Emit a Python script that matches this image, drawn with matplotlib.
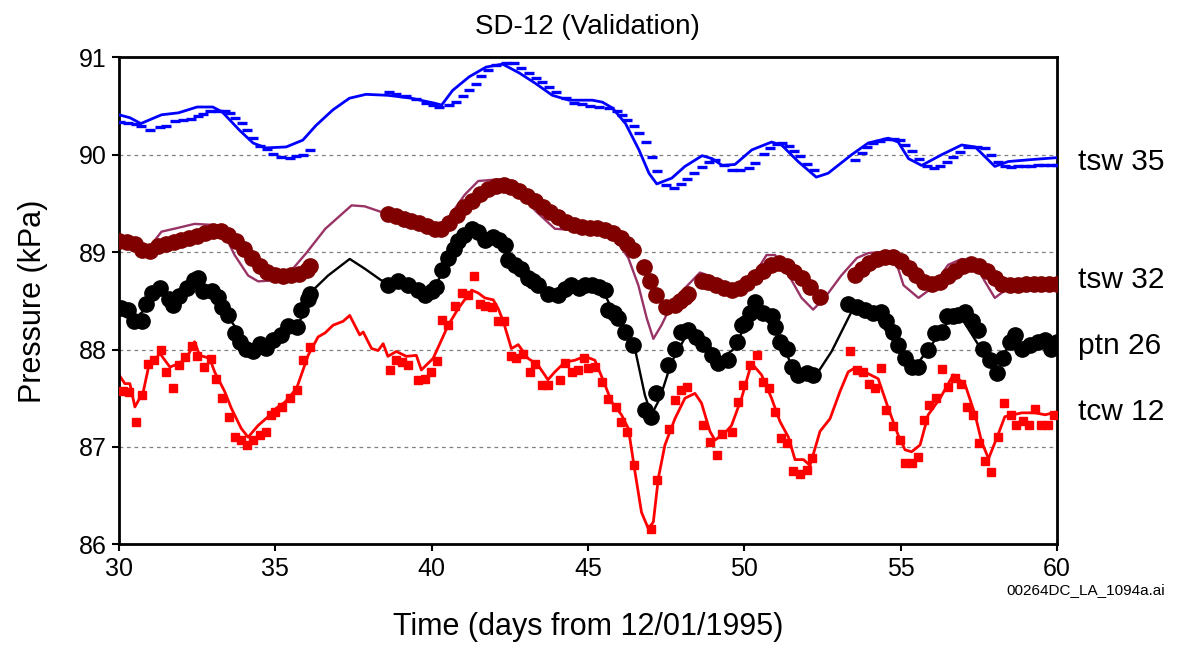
import matplotlib
matplotlib.use('Agg')
import matplotlib.pyplot as plt
import matplotlib.transforms as mtransforms

plt.rcParams['font.family'] = ['Liberation Sans', 'DejaVu Sans']

# tsw 35 - simulated (line) and observed (dashes)
tsw35_sim_t = [30.0, 30.35, 30.7, 31.36, 31.9, 32.5, 33.0, 33.3, 33.86, 34.29, 34.7, 35.35, 35.88,
               36.3, 36.84, 37.37, 37.9, 38.6, 39.35, 40.08, 40.32, 40.67, 41.2, 41.74, 42.27, 42.8,
               43.33, 43.86, 44.39, 45.14, 45.46, 45.78, 46.2, 46.63, 46.95, 47.2, 47.68, 48.1, 48.65,
               48.97, 49.29, 49.7, 50.24, 50.87, 51.19, 51.72, 52.3, 52.68, 53.43, 53.96, 54.6, 54.92,
               55.25, 55.67, 56.31, 56.95, 57.38, 58.01, 58.44, 59.18, 60.0]
tsw35_sim_v = [90.41, 90.38, 90.32, 90.41, 90.43, 90.49, 90.49, 90.44, 90.25, 90.12, 90.07, 90.08, 90.15,
               90.30, 90.46, 90.58, 90.62, 90.61, 90.58, 90.53, 90.51, 90.66, 90.80, 90.90, 90.93, 90.84,
               90.73, 90.61, 90.56, 90.56, 90.54, 90.48, 90.32, 90.05, 89.81, 89.70, 89.76, 89.88, 89.99,
               89.96, 89.89, 89.90, 90.05, 90.13, 90.10, 89.93, 89.77, 89.81, 90.00, 90.12, 90.17, 90.13,
               89.96, 89.89, 90.00, 90.10, 90.08, 89.88, 89.93, 89.95, 89.97]
tsw35_obs_t = [30.03, 30.3, 30.56, 30.72, 30.99, 31.31, 31.52, 31.79, 32.05, 32.32, 32.53, 32.69, 32.9,
               33.17, 33.38, 33.54, 33.70, 33.92, 34.08, 34.29, 34.5, 34.72, 34.93, 35.19, 35.46, 35.67,
               35.88, 36.12,
               38.65, 38.86, 39.18, 39.5, 39.82, 40.03, 40.24, 40.56, 40.78, 40.99, 41.2, 41.42, 41.58,
               41.79, 42.06, 42.38, 42.64, 42.85, 43.12, 43.33, 43.54, 43.76, 43.97, 44.29, 44.55, 44.82,
               45.08, 45.35, 45.67, 45.93, 46.09, 46.25, 46.46, 46.62, 46.84, 47.05, 47.21, 47.48, 47.74,
               47.96, 48.17, 48.38, 48.65, 48.86, 49.07, 49.34, 49.61, 49.87, 50.14, 50.35, 50.62, 50.83,
               51.04, 51.2, 51.42, 51.58, 51.79, 52.0, 52.22,
               53.54, 53.76, 53.92, 54.13, 54.34, 54.55, 54.77, 54.98, 55.14, 55.35, 55.57, 55.83, 56.05,
               56.26, 56.47, 56.68, 56.9, 57.16, 57.43, 57.69, 57.9, 58.12, 58.33, 58.54, 58.75, 58.96,
               59.17, 59.38, 59.59, 59.8, 60.0]
tsw35_obs_v = [90.34, 90.33, 90.32, 90.29, 90.25, 90.28, 90.30, 90.35, 90.36, 90.37, 90.40, 90.42, 90.45,
               90.45, 90.45, 90.43, 90.38, 90.33, 90.25, 90.17, 90.09, 90.06, 90.01, 89.98, 89.97, 89.99,
               90.00, 90.05,
               90.64, 90.62, 90.60, 90.57, 90.53, 90.51, 90.49, 90.51, 90.54, 90.60, 90.66, 90.73, 90.81,
               90.87, 90.92, 90.94, 90.94, 90.89, 90.84, 90.79, 90.75, 90.70, 90.64, 90.58, 90.53, 90.52,
               90.50, 90.49, 90.48, 90.45, 90.41, 90.36, 90.29, 90.22, 90.13, 89.98, 89.83, 89.69, 89.66,
               89.70, 89.75, 89.81, 89.87, 89.93, 89.95, 89.89, 89.84, 89.84, 89.86, 89.92, 90.01, 90.07,
               90.11, 90.12, 90.09, 90.04, 89.99, 89.90, 89.84,
               89.95, 90.02, 90.08, 90.12, 90.14, 90.16, 90.16, 90.15, 90.10, 90.04, 89.96, 89.88, 89.86,
               89.88, 89.93, 89.98, 90.03, 90.08, 90.08, 90.07, 90.00, 89.93, 89.88, 89.87, 89.88, 89.88,
               89.88, 89.89, 89.89, 89.89, 89.89]

# tsw 32
tsw32_sim_t = [30.0, 30.5, 30.9, 31.36, 31.9, 32.42, 32.96, 33.38, 33.7, 34.13, 34.45, 35.0, 35.35, 35.99,
               36.6, 37.44, 37.86, 38.5, 39.0, 39.5, 40.0, 40.2, 40.53, 41.06, 41.49, 42.24, 42.77, 43.3,
               43.94, 44.36, 45.0, 45.33, 45.97, 46.29, 46.61, 46.88, 47.09, 47.35, 47.67, 48.1, 48.58,
               48.95, 49.5, 49.92, 50.34, 50.71, 50.98, 51.3, 51.83, 52.2, 52.57, 53.1, 53.6, 53.96, 54.38,
               54.81, 55.09, 55.57, 55.99, 56.52, 56.95, 57.38, 57.69, 58.01, 58.22, 58.6, 59.0, 60.0]
tsw32_sim_v = [89.13, 89.08, 89.02, 89.21, 89.25, 89.29, 89.28, 89.18, 88.97, 88.76, 88.70, 88.71, 88.75,
               88.99, 89.24, 89.48, 89.47, 89.40, 89.36, 89.31, 89.24, 89.23, 89.35, 89.59, 89.73, 89.75,
               89.65, 89.43, 89.24, 89.23, 89.24, 89.25, 89.09, 88.94, 88.66, 88.32, 88.11, 88.25, 88.46,
               88.63, 88.79, 88.75, 88.62, 88.66, 88.78, 88.97, 88.97, 88.83, 88.53, 88.41, 88.53, 88.76,
               88.94, 88.99, 89.00, 88.94, 88.66, 88.53, 88.63, 88.87, 88.93, 88.88, 88.70, 88.53, 88.58,
               88.66, 88.67, 88.67]
tsw32_obs_t = [30.0, 30.25, 30.5, 30.75, 31.0, 31.25, 31.5, 31.75, 32.0, 32.25, 32.5, 32.75, 33.0, 33.25,
               33.5, 33.75, 34.0, 34.25, 34.5, 34.75, 35.0, 35.25, 35.5, 35.75, 36.0, 36.1,
               38.6, 38.85, 39.1, 39.35, 39.6, 39.85, 40.1, 40.3, 40.55, 40.8, 41.05, 41.3, 41.55, 41.8,
               42.05, 42.3, 42.55, 42.8, 43.05, 43.3, 43.55, 43.8, 44.05, 44.3, 44.55, 44.8, 45.05, 45.3,
               45.55, 45.8, 46.05, 46.25, 46.45, 46.8, 46.98, 47.19, 47.51, 47.78, 47.95, 48.1, 48.2,
               48.63, 48.85, 49.1, 49.35, 49.6, 49.85, 50.1, 50.35, 50.6, 50.85, 51.1, 51.35, 51.6, 51.85,
               52.1, 52.42,
               53.53, 53.75, 54.0, 54.25, 54.5, 54.75, 55.0, 55.25, 55.5, 55.75, 56.0, 56.25, 56.5, 56.75,
               57.0, 57.25, 57.5, 57.75, 58.0, 58.25, 58.5, 58.75, 59.0, 59.25, 59.5, 59.75, 60.0]
tsw32_obs_v = [89.11, 89.10, 89.08, 89.02, 89.01, 89.06, 89.08, 89.10, 89.12, 89.14, 89.17, 89.20, 89.22,
               89.22, 89.18, 89.11, 89.03, 88.94, 88.86, 88.80, 88.77, 88.75, 88.76, 88.78, 88.82, 88.86,
               89.39, 89.37, 89.34, 89.32, 89.30, 89.27, 89.24, 89.24, 89.30, 89.38, 89.46, 89.53, 89.60,
               89.65, 89.68, 89.69, 89.67, 89.63, 89.58, 89.52, 89.46, 89.41, 89.36, 89.31, 89.28, 89.26,
               89.25, 89.25, 89.23, 89.20, 89.14, 89.08, 89.02, 88.85, 88.70, 88.56, 88.44, 88.46, 88.50,
               88.54, 88.57,
               88.70, 88.69, 88.66, 88.63, 88.61, 88.63, 88.68, 88.74, 88.81, 88.87, 88.89, 88.86, 88.80,
               88.73, 88.64, 88.54,
               88.76, 88.83, 88.89, 88.93, 88.95, 88.95, 88.91, 88.84, 88.76, 88.69, 88.67, 88.69, 88.75,
               88.81, 88.86, 88.88, 88.86, 88.81, 88.73, 88.67, 88.66, 88.66, 88.67, 88.67, 88.67, 88.67,
               88.67]

# ptn 26
ptn26_sim_t = [30.0, 30.51, 30.8, 31.04, 31.36, 31.73, 32.42, 32.7, 33.2, 33.59, 34.13, 34.55, 35.04,
               35.31, 35.74, 35.95, 36.27, 36.69, 37.38, 37.86, 38.39, 39.0, 39.6, 40.1, 40.74, 41.28,
               41.6, 42.0, 42.4, 42.87, 43.62, 44.15, 45.06, 45.44, 45.76, 46.5, 46.82, 47.03, 47.3,
               47.67, 48.1, 48.36, 48.84, 49.27, 49.69, 50.07, 50.4, 50.98, 51.51, 52.3, 52.79, 53.43,
               54.17, 54.7, 55.06, 55.46, 55.99, 56.52, 56.95, 57.48, 57.9, 58.33, 58.6, 59.0, 59.5, 60.0]
ptn26_sim_v = [88.45, 88.32, 88.40, 88.56, 88.63, 88.53, 88.70, 88.66, 88.55, 88.29, 88.05, 88.05, 88.13,
               88.18, 88.27, 88.39, 88.63, 88.76, 88.93, 88.83, 88.71, 88.68, 88.60, 88.66, 88.97, 89.24,
               89.15, 89.13, 89.02, 88.80, 88.59, 88.62, 88.65, 88.63, 88.42, 88.01, 87.53, 87.33, 87.50,
               87.87, 88.12, 88.17, 88.05, 87.91, 88.01, 88.29, 88.40, 88.22, 87.84, 87.74, 87.98, 88.39,
               88.35, 88.12, 87.95, 87.82, 88.05, 88.29, 88.32, 88.05, 87.84, 87.98, 88.08, 88.05, 88.07,
               88.07]
ptn26_obs_t = [30.05, 30.3, 30.48, 30.75, 30.88, 31.06, 31.31, 31.6, 31.73, 31.93, 32.18, 32.4, 32.53,
               32.69, 32.96, 33.17, 33.3, 33.49, 33.7, 33.86, 34.07, 34.29, 34.5, 34.71, 34.93, 35.19,
               35.4, 35.68, 35.83, 36.04, 36.12,
               38.6, 38.93, 39.25, 39.57, 39.78, 40.0, 40.15, 40.32, 40.53, 40.7, 40.85, 41.05, 41.28,
               41.49, 41.7, 41.97, 42.15, 42.34, 42.45, 42.65, 42.87, 43.08, 43.25, 43.4, 43.72, 44.04,
               44.25, 44.47, 44.7, 44.9, 45.12, 45.35, 45.54, 45.65, 45.82, 45.97, 46.18, 46.45, 46.82,
               47.03, 47.19, 47.57, 47.78, 47.99, 48.2, 48.45, 48.68, 48.95, 49.16, 49.48, 49.75, 49.91,
               50.02, 50.18, 50.34, 50.6, 50.87, 50.98, 51.14, 51.35, 51.51, 51.72, 51.99, 52.2,
               53.32, 53.59, 53.85, 54.12, 54.38, 54.54, 54.76, 54.92, 55.14, 55.35, 55.56, 55.88, 56.09,
               56.31, 56.47, 56.68, 56.84, 57.06, 57.27, 57.48, 57.64, 57.86, 58.07, 58.28, 58.49, 58.65,
               58.87, 59.13, 59.4, 59.61, 59.82, 60.0]
ptn26_obs_v = [88.43, 88.41, 88.29, 88.29, 88.47, 88.58, 88.63, 88.52, 88.46, 88.55, 88.63, 88.71, 88.73,
               88.60, 88.60, 88.54, 88.44, 88.35, 88.17, 88.08, 88.01, 87.98, 88.06, 88.02, 88.10, 88.15,
               88.24, 88.23, 88.41, 88.52, 88.57,
               88.66, 88.70, 88.66, 88.61, 88.56, 88.60, 88.64, 88.82, 88.94, 89.03, 89.11, 89.18, 89.24,
               89.21, 89.12, 89.16, 89.12, 89.07, 88.92, 88.87, 88.83, 88.73, 88.70, 88.66, 88.57, 88.56,
               88.62, 88.66, 88.63, 88.66, 88.66, 88.64, 88.61, 88.41, 88.37, 88.32, 88.18, 88.05, 87.38,
               87.31, 87.55, 87.84, 88.01, 88.18, 88.20, 88.13, 88.06, 87.94, 87.86, 87.89, 88.08, 88.25,
               88.27, 88.37, 88.49, 88.37, 88.34, 88.23, 88.08, 88.01, 87.82, 87.74, 87.76, 87.74,
               88.47, 88.44, 88.41, 88.37, 88.39, 88.29, 88.18, 88.05, 87.91, 87.82, 87.82, 87.99, 88.17,
               88.18, 88.34, 88.34, 88.35, 88.39, 88.29, 88.20, 88.01, 87.89, 87.76, 87.91, 88.08, 88.15,
               88.01, 88.05, 88.08, 88.10, 88.01, 88.08]

# tcw 12
tcw12_sim_t = [30.0, 30.19, 30.35, 30.51, 30.78, 30.94, 31.31, 31.63, 31.95, 32.21, 32.42, 32.58, 32.9,
               33.06, 33.38, 33.59, 33.91, 34.13, 34.45, 34.77, 35.04, 35.31, 35.68, 36.05, 36.37, 36.59,
               36.85, 37.17, 37.38, 37.7, 37.81, 38.08, 38.29, 38.45, 38.6, 38.87, 39.19, 39.51, 39.67,
               40.05, 40.53, 40.85, 41.28, 41.49, 41.7, 41.97, 42.13, 42.29, 42.55, 42.77, 43.08, 43.4,
               43.72, 43.94, 44.26, 44.58, 44.9, 45.22, 45.44, 45.76, 46.07, 46.29, 46.5, 46.71, 46.93,
               47.09, 47.25, 47.46, 47.78, 48.1, 48.42, 48.63, 48.9, 49.06, 49.37, 49.59, 49.91, 50.23,
               50.55, 50.87, 51.14, 51.41, 51.62, 51.89, 52.1, 52.42, 52.74, 53.06, 53.32, 53.53, 53.91,
               54.28, 54.6, 54.92, 55.14, 55.35, 55.62, 55.88, 56.26, 56.68, 57.06, 57.38, 57.59, 57.81,
               58.07, 58.33, 58.6, 58.87, 59.3, 59.62, 60.0]
tcw12_sim_v = [87.74, 87.65, 87.65, 87.41, 87.57, 87.81, 87.96, 87.82, 87.86, 87.94, 88.08, 87.94, 87.91,
               87.77, 87.57, 87.40, 87.19, 87.10, 87.22, 87.31, 87.40, 87.46, 87.60, 87.94, 88.13, 88.17,
               88.25, 88.29, 88.35, 88.15, 88.18, 88.01, 87.99, 88.06, 87.93, 87.98, 87.93, 87.94, 87.79,
               87.91, 88.25, 88.42, 88.61, 88.58, 88.53, 88.51, 88.42, 88.29, 88.01, 88.05, 87.91, 87.84,
               87.69, 87.77, 87.87, 87.89, 87.93, 87.89, 87.72, 87.46, 87.33, 87.19, 86.75, 86.33, 86.16,
               86.23, 86.68, 87.02, 87.29, 87.50, 87.55, 87.45, 87.16, 87.07, 87.14, 87.22, 87.50, 87.86,
               87.74, 87.50, 87.26, 87.10, 86.87, 86.87, 86.81, 87.16, 87.29, 87.57, 87.77, 87.81, 87.76,
               87.70, 87.40, 87.12, 86.97, 86.95, 87.02, 87.33, 87.50, 87.74, 87.64, 87.33, 87.05, 86.88,
               87.09, 87.31, 87.33, 87.35, 87.35, 87.33, 87.36]
tcw12_obs_t = [30.14, 30.32, 30.53, 30.74, 30.94, 31.13, 31.33, 31.52, 31.73, 31.91, 32.1, 32.34, 32.51,
               32.71, 32.93, 33.09, 33.3, 33.51, 33.7, 33.89, 34.1, 34.29, 34.5, 34.69, 34.87, 34.99,
               35.2, 35.47, 35.68, 35.89, 36.11,
               38.66, 38.87, 39.05, 39.25, 39.57, 39.8, 39.98, 40.16, 40.34, 40.53, 40.74, 40.96, 41.15,
               41.35, 41.54, 41.72, 41.93, 42.13, 42.32, 42.53, 42.71, 42.92, 43.14, 43.32, 43.53, 43.72,
               44.1, 44.28, 44.49, 44.68, 44.87, 45.01, 45.22, 45.44, 45.65, 45.89, 46.07, 46.26, 46.48,
               47.03, 47.22, 47.59, 47.78, 47.99, 48.18, 48.68, 48.9, 49.11, 49.29, 49.61, 49.8, 49.96,
               50.18, 50.39, 50.6, 50.78, 50.98, 51.17, 51.37, 51.56, 51.78, 51.99, 52.17,
               53.37, 53.59, 53.8, 53.98, 54.17, 54.36, 54.54, 54.76, 54.97, 55.14, 55.35, 55.55, 55.73,
               55.92, 56.12, 56.31, 56.52, 56.74, 56.92, 57.11, 57.32, 57.51, 57.71, 57.9, 58.1, 58.31,
               58.52, 58.69, 58.9, 59.1, 59.31, 59.5, 59.72, 59.9]
tcw12_obs_v = [87.57, 87.56, 87.26, 87.53, 87.85, 87.89, 87.99, 87.77, 87.61, 87.84, 87.92, 88.04, 87.93,
               87.82, 87.90, 87.70, 87.50, 87.31, 87.10, 87.07, 87.02, 87.07, 87.12, 87.15, 87.33, 87.36,
               87.41, 87.50, 87.58, 87.89, 88.03,
               87.79, 87.89, 87.87, 87.84, 87.69, 87.70, 87.77, 87.88, 88.30, 88.25, 88.45, 88.58, 88.56,
               88.75, 88.47, 88.45, 88.44, 88.29, 88.29, 87.93, 87.91, 87.95, 87.77, 87.85, 87.64, 87.64,
               87.69, 87.86, 87.77, 87.79, 87.91, 87.81, 87.82, 87.67, 87.49, 87.41, 87.26, 87.15, 86.81,
               86.16, 86.66, 87.18, 87.48, 87.58, 87.62, 87.23, 87.05, 86.92, 87.13, 87.15, 87.46, 87.64,
               87.84, 87.94, 87.67, 87.61, 87.36, 87.09, 87.04, 86.75, 86.72, 86.76, 86.89,
               87.98, 87.79, 87.77, 87.65, 87.60, 87.81, 87.38, 87.21, 87.07, 86.83, 86.84, 86.90, 87.28,
               87.43, 87.50, 87.80, 87.62, 87.71, 87.65, 87.41, 87.33, 87.04, 86.86, 86.74, 87.10, 87.45,
               87.33, 87.22, 87.27, 87.22, 87.39, 87.22, 87.23, 87.33]

series_labels = ['tsw 35', 'tsw 32', 'ptn 26', 'tcw 12']
label_y = [89.93, 88.71, 88.04, 87.36]

fig = plt.figure(figsize=(11.8, 6.47), dpi=100)
ax = fig.add_axes([0.1008, 0.1587, 0.795, 0.7527])

# simulated lines
ax.plot(tsw35_sim_t, tsw35_sim_v, color='#0000FF', lw=2.0, zorder=3)
ax.plot(tsw32_sim_t, tsw32_sim_v, color='#993366', lw=1.7, zorder=2)
ax.plot(ptn26_sim_t, ptn26_sim_v, color='black', lw=1.7, zorder=2)
ax.plot(tcw12_sim_t, tcw12_sim_v, color='#FF0000', lw=2.0, zorder=2)

# observed data
ax.plot(tsw35_obs_t, tsw35_obs_v, ls='none', marker='_', ms=6.5, mew=2.4, color='#0000FF', zorder=4)
ax.plot(tsw32_obs_t, tsw32_obs_v, ls='none', marker='o', ms=11, color='#800000', mec='#800000', zorder=3)
ax.plot(ptn26_obs_t, ptn26_obs_v, ls='none', marker='o', ms=11, color='black', mec='black', zorder=3)
ax.plot(tcw12_obs_t, tcw12_obs_v, ls='none', marker='s', ms=6.2, color='#FF0000', mec='#FF0000', zorder=3)

ax.set_xlim(30, 60)
ax.set_ylim(86, 91)
ax.set_xticks(range(30, 61, 5))
ax.set_yticks(range(86, 92))
ax.yaxis.grid(True, linestyle=(0, (3, 3)), color='#808080', lw=0.9)
ax.set_axisbelow(True)
ax.tick_params(direction='out', length=5, width=1.5, labelsize=18, pad=4)
for sp in ax.spines.values():
    sp.set_linewidth(2)

ax.set_xlabel('Time (days from 12/01/1995)', fontsize=22)
ax.set_ylabel('Pressure (kPa)', fontsize=22)
ax.xaxis.set_label_coords(0.5, -0.138)
ax.yaxis.set_label_coords(-0.076, 0.5)

trans = mtransforms.blended_transform_factory(ax.transAxes, ax.transData)
for lab, yv in zip(series_labels, label_y):
    ax.text(1.022, yv, lab, transform=trans, fontsize=21.5, ha='left', va='center', clip_on=False)

fig.text(0.498, 0.958, 'SD-12 (Validation)', fontsize=20, ha='center', va='center')
fig.text(0.987, 0.088, '00264DC_LA_1094a.ai', fontsize=11, ha='right', va='center')

fig.savefig('out.png', dpi=100)
